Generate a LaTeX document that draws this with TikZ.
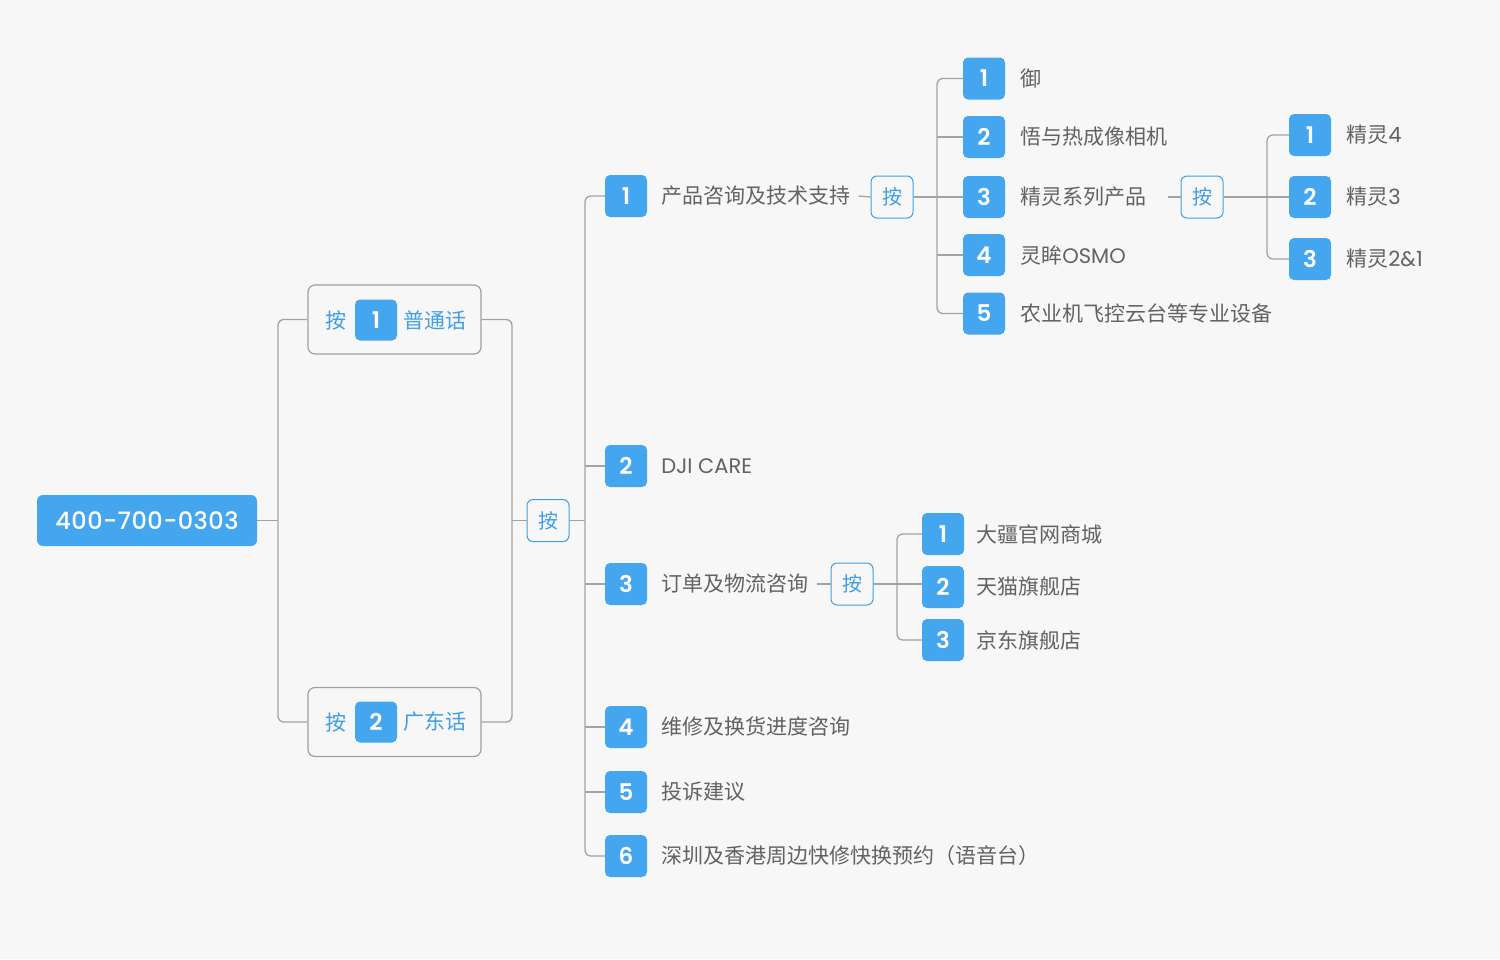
\documentclass[tikz,border=0pt]{standalone}
\usepackage{fontspec}
\setmainfont{Poppins}
\newfontfamily\cjk{Noto Sans CJK SC}
\newfontfamily\numfont{Poppins SemiBold}
\newfontfamily\hotfont{Poppins Medium}[LetterSpace=2]
\usetikzlibrary{positioning}

\definecolor{bg}{HTML}{F7F7F7}
\definecolor{djiblue}{HTML}{45A6F0}
\definecolor{presscol}{HTML}{3E9EE8}
\definecolor{labelgray}{HTML}{626262}
\definecolor{wirecol}{HTML}{A3A3A3}
\definecolor{framecol}{HTML}{A0A0A0}

\newcommand{\lat}[1]{{\rmfamily #1}}

\tikzset{
  badge/.style={fill=djiblue, rounded corners=5pt, minimum width=42pt, minimum height=42pt,
    inner sep=0pt, text=white, font=\numfont\fontsize{23}{27}\selectfont},
  item/.style={inner sep=0pt, text=labelgray, font=\cjk\fontsize{21}{25}\selectfont},
  presskey/.style={draw=presscol, line width=1pt, fill=bg, rounded corners=6pt, minimum size=42pt,
    inner sep=0pt, text=presscol, font=\cjk\fontsize{20}{24}\selectfont},
  presstext/.style={inner sep=0pt, text=presscol, font=\cjk\fontsize{21}{25}\selectfont},
  langbox/.style={draw=framecol, line width=1.2pt, rounded corners=7pt, minimum width=173pt, minimum height=69pt},
  wire/.style={draw=wirecol, line width=1.3pt, rounded corners=6pt},
}

\begin{document}
\begin{tikzpicture}[x=1pt,y=-1pt]
	% Canvas
	\fill[bg] (0,0) rectangle (1500,959);
	\useasboundingbox (0,0) rectangle (1500,959);

	% Hotline
	\node[fill=djiblue, rounded corners=6pt, minimum width=220pt, minimum height=51pt, text=white,
		font=\hotfont\fontsize{24}{28}\selectfont] (root) at (147,520.5) {400-700-0303};

	% Language choice
	\node[langbox] (lang1) at (394.5,319.5) {};
	\node[badge, minimum height=41pt] (k1) at (376,320) {1};
	\node[presstext, left=8pt of k1] (k1a) {按};
	\node[presstext, right=6pt of k1] (k1b) {普通话};

	\node[langbox] (lang2) at (394.5,722) {};
	\node[badge, minimum height=41pt] (k2) at (376,722) {2};
	\node[presstext, left=8pt of k2] (k2a) {按};
	\node[presstext, right=6pt of k2] (k2b) {广东话};

	\coordinate (busA) at (278,520.5);
	\draw[wire] (root.east) -- (busA);
	\draw[wire] (busA) |- (lang1.west);
	\draw[wire] (busA) |- (lang2.west);

	\node[presskey] (pA) at (548,520.5) {按};
	\coordinate (busB) at (512,520.5);
	\draw[wire] (lang1.east) -| (busB) |- (lang2.east);
	\draw[wire] (busB) -- (pA.west);

	% Main menu
	\node[badge] (n1) at (626,196) {1};
	\node[item, right=14pt of n1] (t1) {产品咨询及技术支持};
	\node[badge] (n2) at (626,466) {2};
	\node[item, right=14pt of n2] (t2) {\lat{DJI CARE}};
	\node[badge] (n3) at (626,584) {3};
	\node[item, right=14pt of n3] (t3) {订单及物流咨询};
	\node[badge] (n4) at (626,727) {4};
	\node[item, right=14pt of n4] (t4) {维修及换货进度咨询};
	\node[badge] (n5) at (626,792) {5};
	\node[item, right=14pt of n5] (t5) {投诉建议};
	\node[badge] (n6) at (626,856) {6};
	\node[item, right=14pt of n6] (t6) {深圳及香港周边快修快换预约（语音台）};

	\coordinate (busC) at (585,520.5);
	\draw[wire] (pA.east) -- (busC);
	\draw[wire] (busC) |- (n1.west);
	\draw[wire] (busC) |- (n6.west);
	\foreach \n in {n2,n3,n4,n5}
		\draw[wire] (busC |- \n.west) -- (\n.west);

	% Products
	\node[presskey] (pB) at (892,197) {按};
	\draw[wire] ([xshift=8pt]t1.east) -- (pB.west);
	\node[badge] (s1) at (984,78.5) {1};
	\node[item, right=15pt of s1] (u1) {御};
	\node[badge] (s2) at (984,137) {2};
	\node[item, right=15pt of s2] (u2) {悟与热成像相机};
	\node[badge] (s3) at (984,197) {3};
	\node[item, right=15pt of s3] (u3) {精灵系列产品};
	\node[badge] (s4) at (984,255) {4};
	\node[item, right=15pt of s4] (u4) {灵眸\lat{OSMO}};
	\node[badge] (s5) at (984,313.5) {5};
	\node[item, right=15pt of s5] (u5) {农业机飞控云台等专业设备};

	\coordinate (busD) at (937,197);
	\draw[wire] (pB.east) -- (s3.west);
	\draw[wire] (busD) |- (s1.west);
	\draw[wire] (busD) |- (s5.west);
	\foreach \n in {s2,s4}
		\draw[wire] (busD |- \n.west) -- (\n.west);

	% Phantom series
	\node[presskey] (pC) at (1202,197) {按};
	\draw[wire] ([xshift=21pt]u3.east) -- (pC.west);
	\node[badge] (g1) at (1310,135) {1};
	\node[item, right=15pt of g1] (v1) {精灵\lat{4}};
	\node[badge] (g2) at (1310,197) {2};
	\node[item, right=15pt of g2] (v2) {精灵\lat{3}};
	\node[badge] (g3) at (1310,259) {3};
	\node[item, right=15pt of g3] (v3) {精灵\lat{2\&1}};

	\coordinate (busE) at (1267,197);
	\draw[wire] (pC.east) -- (g2.west);
	\draw[wire] (busE) |- (g1.west);
	\draw[wire] (busE) |- (g3.west);

	% Shops
	\node[presskey] (pD) at (852,584) {按};
	\draw[wire] ([xshift=8pt]t3.east) -- (pD.west);
	\node[badge] (e1) at (943,534) {1};
	\node[item, right=12pt of e1] (w1) {大疆官网商城};
	\node[badge] (e2) at (943,587) {2};
	\node[item, right=12pt of e2] (w2) {天猫旗舰店};
	\node[badge] (e3) at (943,640) {3};
	\node[item, right=12pt of e3] (w3) {京东旗舰店};

	\coordinate (busF) at (897,584);
	\draw[wire] (pD.east) -- (pD.east -| e2.west);
	\draw[wire] (busF) |- (e1.west);
	\draw[wire] (busF) |- (e3.west);
\end{tikzpicture}
\end{document}
